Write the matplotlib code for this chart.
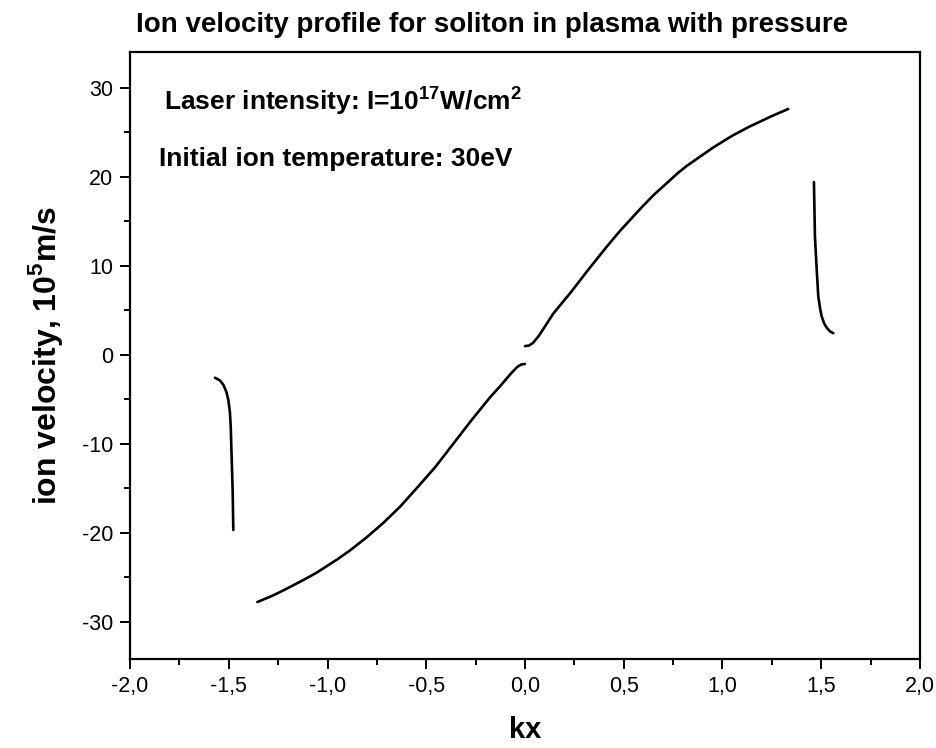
import matplotlib
matplotlib.use("Agg")
import matplotlib.pyplot as plt
from matplotlib.ticker import MultipleLocator, FuncFormatter

plt.rcParams['font.family'] = ['Liberation Sans', 'DejaVu Sans']
plt.rcParams['mathtext.fontset'] = 'custom'
plt.rcParams['mathtext.rm'] = 'Liberation Sans'
plt.rcParams['mathtext.bf'] = 'Liberation Sans:bold'

# Ion velocity (10^5 m/s) versus kx, one array pair per branch
kx_left = [-1.570, -1.545, -1.527, -1.512, -1.502, -1.494, -1.490, -1.485, -1.480, -1.477]
v_left = [-2.6, -2.9, -3.4, -4.2, -5.1, -6.5, -8.1, -11.8, -15.5, -19.7]

kx_neg = [-1.355, -1.28, -1.224, -1.12, -1.055, -0.95, -0.886, -0.80, -0.717, -0.633,
          -0.548, -0.453, -0.38, -0.272, -0.177, -0.128, -0.07, -0.04, -0.02, 0.0]
v_neg = [-27.8, -27.1, -26.5, -25.3, -24.5, -23.0, -22.0, -20.5, -18.9, -17.1,
         -15.0, -12.6, -10.5, -7.4, -4.8, -3.6, -2.1, -1.4, -1.12, -1.05]

kx_pos = [0.0, 0.02, 0.04, 0.07, 0.143, 0.232, 0.312, 0.413, 0.481, 0.593,
          0.650, 0.774, 0.819, 0.955, 1.05, 1.135, 1.25, 1.333]
v_pos = [0.95, 1.02, 1.3, 2.1, 4.6, 7.0, 9.3, 12.1, 13.9, 16.6,
         17.9, 20.4, 21.2, 23.3, 24.6, 25.6, 26.8, 27.6]

kx_right = [1.463, 1.468, 1.477, 1.485, 1.494, 1.502, 1.515, 1.528, 1.545, 1.561]
v_right = [19.4, 13.3, 9.55, 6.55, 5.2, 4.3, 3.5, 3.0, 2.6, 2.4]

fig = plt.figure(figsize=(9.36, 7.48), dpi=100)
ax = fig.add_axes([0.1389, 0.1190, 0.8440, 0.8115])

for xs, ys in [(kx_left, v_left), (kx_neg, v_neg), (kx_pos, v_pos), (kx_right, v_right)]:
    ax.plot(xs, ys, color='black', lw=1.9, solid_capstyle='round', solid_joinstyle='round')

ax.set_xlim(-2.0, 2.0)
ax.set_ylim(-34.2, 34.0)
ax.xaxis.set_major_locator(MultipleLocator(0.5))
ax.xaxis.set_minor_locator(MultipleLocator(0.25))
ax.yaxis.set_major_locator(MultipleLocator(10))
ax.yaxis.set_minor_locator(MultipleLocator(5))
ax.xaxis.set_major_formatter(FuncFormatter(lambda v, p: f"{v:.1f}".replace('.', ',')))
ax.yaxis.set_major_formatter(FuncFormatter(lambda v, p: f"{v:.0f}"))

for s in ax.spines.values():
    s.set_linewidth(1.6)
ax.tick_params(which='both', direction='out', width=1.4, labelsize=15.5, top=False, right=False)
ax.tick_params(which='major', length=7, pad=5)
ax.tick_params(which='minor', length=4)

ax.set_xlabel('kx', fontsize=21, fontweight='bold', labelpad=14)
ax.set_ylabel(r'ion velocity, 10$^{\mathbf{5}}$m/s', fontsize=23, fontweight='bold', labelpad=12)

fig.text(0.526, 0.967, 'Ion velocity profile for soliton in plasma with pressure',
         ha='center', va='center', fontsize=20, fontweight='bold')

ax.text(0.043, 0.905, r'Laser intensity: I=10$^{\mathbf{17}}$W/cm$^{\mathbf{2}}$',
        transform=ax.transAxes, fontsize=19, fontweight='bold', va='baseline')
ax.text(0.037, 0.812, 'Initial ion temperature: 30eV',
        transform=ax.transAxes, fontsize=19, fontweight='bold', va='baseline')

fig.savefig('out.png', dpi=100)
